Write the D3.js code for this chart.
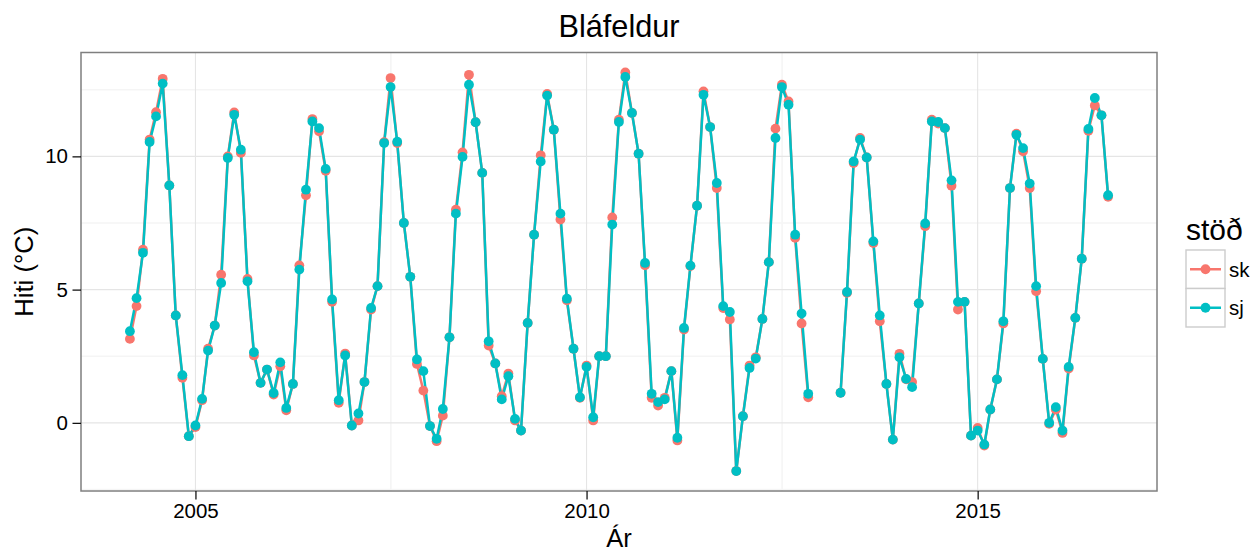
<!DOCTYPE html>
<html><head><meta charset="utf-8">
<script src="https://cdn.jsdelivr.net/npm/d3@7"></script>
<style>
body{margin:0;background:#fff}
svg{display:block}
text{font-family:"Liberation Sans",Arial,Helvetica,sans-serif}
</style>
</head><body>
<svg id="chart" width="1257" height="550"></svg>
<script>
// ---- data ----
const titleText = "Bláfeldur";
const xTitle = "Ár";
const yTitle = "Hiti (°C)";
const legendTitle = "stöð";
const seriesNames = ["sk", "sj"];
const seriesColors = ["#F8766D", "#00BFC4"];
const startYear = 2004, startMonthIndex = 2; // first value = March 2004, monthly
const sk = [3.15,4.38,6.5,10.63,11.66,12.91,8.91,4.03,1.69,-0.5,-0.16,0.85,
  2.78,3.65,5.56,10.0,11.65,10.13,5.4,2.53,1.5,2.0,1.06,2.12,
  0.47,1.46,5.91,8.54,11.4,10.94,9.46,4.54,0.75,2.6,-0.1,0.09,
  1.53,4.25,5.13,10.53,12.94,10.5,7.5,5.48,2.21,1.21,-0.12,-0.69,
  0.27,3.21,8.0,10.15,13.06,11.28,9.38,2.9,2.23,1.0,1.85,0.09,
  -0.29,3.75,7.06,10.04,12.34,11.0,7.63,4.6,2.78,0.94,2.15,0.09,
  2.5,2.5,7.71,11.38,13.15,11.63,10.1,5.91,0.94,0.65,0.94,1.94,
  -0.66,3.5,5.88,8.15,12.44,11.1,8.81,4.31,3.88,-1.81,0.25,2.15,
  2.46,3.9,6.03,11.04,12.69,12.06,6.94,3.73,0.96,null,null,null,
  null,1.13,4.88,9.75,10.69,9.96,6.75,3.81,1.46,-0.63,2.59,1.63,
  1.53,4.48,7.38,11.38,11.23,11.06,8.9,4.25,4.54,-0.48,-0.19,-0.85,
  0.5,1.63,3.73,8.81,10.85,10.19,8.81,4.94,2.4,-0.04,0.5,-0.38,
  2.04,3.94,6.16,10.96,11.91,11.54,8.48];
const sj = [3.44,4.68,6.38,10.54,11.5,12.73,8.91,4.03,1.79,-0.5,-0.1,0.9,
  2.71,3.65,5.25,9.94,11.56,10.25,5.31,2.65,1.5,2.0,1.12,2.27,
  0.56,1.46,5.75,8.75,11.31,11.06,9.53,4.63,0.85,2.53,-0.1,0.35,
  1.53,4.31,5.13,10.5,12.6,10.55,7.5,5.48,2.38,1.94,-0.12,-0.6,
  0.52,3.21,7.85,9.98,12.69,11.28,9.38,3.06,2.23,0.88,1.75,0.15,
  -0.29,3.75,7.06,9.81,12.28,11.0,7.85,4.66,2.78,0.96,2.1,0.21,
  2.5,2.5,7.44,11.29,12.98,11.63,10.1,6.0,1.09,0.78,0.88,1.94,
  -0.56,3.56,5.9,8.15,12.31,11.1,9.0,4.38,4.16,-1.81,0.25,2.06,
  2.41,3.9,6.03,10.69,12.6,11.94,7.06,4.1,1.09,null,null,null,
  null,1.13,4.91,9.81,10.63,9.96,6.81,4.03,1.46,-0.63,2.46,1.65,
  1.34,4.48,7.48,11.31,11.29,11.06,9.1,4.54,4.54,-0.48,-0.29,-0.81,
  0.5,1.63,3.81,8.81,10.81,10.31,8.98,5.13,2.4,0.0,0.59,-0.29,
  2.1,3.94,6.16,11.03,12.19,11.54,8.54];
const xTickYears = [2005, 2010, 2015];
const xMinorYears = [2007.5, 2012.5];
const yTicks = [0, 5, 10];
const yMinor = [-2.5, 2.5, 7.5, 12.5];

// ---- layout ----
const W = 1257, H = 550;
const panel = {left: 81, right: 1157, top: 52.5, bottom: 491};

const dates = sk.map((_, i) => new Date(startYear, startMonthIndex + i, 1));
const seriesData = [sk, sj].map((vals, s) => ({
  name: seriesNames[s], color: seriesColors[s],
  pts: vals.map((v, i) => ({date: dates[i], v}))
}));

const yearDate = yr => {
  const yi = Math.floor(yr), f = yr - yi;
  const a = +new Date(yi, 0, 1), b = +new Date(yi + 1, 0, 1);
  return new Date(a + f * (b - a));
};

const dExt = d3.extent(dates).map(d => +d);
const dPad = (dExt[1] - dExt[0]) * 0.05;
const x = d3.scaleTime()
  .domain([new Date(dExt[0] - dPad), new Date(dExt[1] + dPad)])
  .range([panel.left, panel.right]);

const allVals = sk.concat(sj).filter(v => v != null);
const vExt = d3.extent(allVals);
const vPad = (vExt[1] - vExt[0]) * 0.05;
const y = d3.scaleLinear()
  .domain([vExt[0] - vPad, vExt[1] + vPad])
  .range([panel.bottom, panel.top]);

const svg = d3.select("#chart");
svg.append("rect").attr("width", W).attr("height", H).attr("fill", "#fff");

svg.append("defs").append("clipPath").attr("id", "clip")
  .append("rect").attr("x", panel.left).attr("y", panel.top)
  .attr("width", panel.right - panel.left).attr("height", panel.bottom - panel.top);

const grid = svg.append("g").attr("clip-path", "url(#clip)");
grid.selectAll(".ymin").data(yMinor).enter().append("line")
  .attr("x1", panel.left).attr("x2", panel.right)
  .attr("y1", d => y(d)).attr("y2", d => y(d))
  .attr("stroke", "#f5f5f5").attr("stroke-width", 1.6);
grid.selectAll(".xmin").data(xMinorYears).enter().append("line")
  .attr("y1", panel.top).attr("y2", panel.bottom)
  .attr("x1", d => x(yearDate(d))).attr("x2", d => x(yearDate(d)))
  .attr("stroke", "#f5f5f5").attr("stroke-width", 1.6);
grid.selectAll(".ymaj").data(yTicks).enter().append("line")
  .attr("x1", panel.left).attr("x2", panel.right)
  .attr("y1", d => y(d)).attr("y2", d => y(d))
  .attr("stroke", "#e5e5e5").attr("stroke-width", 1.1);
grid.selectAll(".xmaj").data(xTickYears).enter().append("line")
  .attr("y1", panel.top).attr("y2", panel.bottom)
  .attr("x1", d => x(yearDate(d))).attr("x2", d => x(yearDate(d)))
  .attr("stroke", "#e5e5e5").attr("stroke-width", 1.1);

const plot = svg.append("g").attr("clip-path", "url(#clip)");
const line = d3.line().defined(d => d.v != null).x(d => x(d.date)).y(d => y(d.v));
seriesData.forEach(s => {
  plot.append("path").datum(s.pts).attr("d", line)
    .attr("fill", "none").attr("stroke", s.color).attr("stroke-width", 2.5)
    .attr("stroke-linejoin", "round");
});
seriesData.forEach(s => {
  plot.append("g").selectAll("circle").data(s.pts.filter(d => d.v != null)).enter()
    .append("circle").attr("cx", d => x(d.date)).attr("cy", d => y(d.v))
    .attr("r", 4.9).attr("fill", s.color);
});

svg.append("rect").attr("x", panel.left).attr("y", panel.top)
  .attr("width", panel.right - panel.left).attr("height", panel.bottom - panel.top)
  .attr("fill", "none").attr("stroke", "#7f7f7f").attr("stroke-width", 1.5);

// axes
const xAxis = d3.axisBottom(x).tickValues(xTickYears.map(yearDate))
  .tickFormat(d3.timeFormat("%Y")).tickSize(8.5).tickPadding(3.5);
const gx = svg.append("g").attr("transform", `translate(0,${panel.bottom})`).call(xAxis);
gx.select(".domain").remove();
gx.selectAll(".tick line").attr("stroke", "#000").attr("stroke-width", 1.2);
gx.selectAll(".tick text").attr("font-size", 20.5).attr("fill", "#000")
  .attr("font-family", "Liberation Sans, Arial, sans-serif");

const yAxis = d3.axisLeft(y).tickValues(yTicks).tickSize(8.5).tickPadding(4.5);
const gy = svg.append("g").attr("transform", `translate(${panel.left},0)`).call(yAxis);
gy.select(".domain").remove();
gy.selectAll(".tick line").attr("stroke", "#000").attr("stroke-width", 1.2);
gy.selectAll(".tick text").attr("font-size", 20.5).attr("fill", "#000")
  .attr("font-family", "Liberation Sans, Arial, sans-serif");

// titles
const cx = (panel.left + panel.right) / 2;
svg.append("text").attr("x", cx).attr("y", 37).attr("text-anchor", "middle")
  .attr("font-size", 30.7).attr("fill", "#000").text(titleText);
svg.append("text").attr("x", cx).attr("y", 547).attr("text-anchor", "middle")
  .attr("font-size", 25.6).attr("fill", "#000").text(xTitle);
svg.append("text").attr("transform", `translate(33,${(panel.top + panel.bottom) / 2}) rotate(-90)`)
  .attr("text-anchor", "middle").attr("font-size", 25.6).attr("fill", "#000").text(yTitle);

// legend
const lg = svg.append("g").attr("transform", "translate(1186,0)");
lg.append("text").attr("x", 0).attr("y", 240).attr("font-size", 30).attr("fill", "#000").text(legendTitle);
const keyW = 39, keyH = 38.5, keyTop = 250;
seriesData.forEach((s, i) => {
  const ky = keyTop + i * keyH;
  lg.append("rect").attr("x", 0).attr("y", ky).attr("width", keyW).attr("height", keyH)
    .attr("fill", "#fff").attr("stroke", "#cccccc").attr("stroke-width", 1.4);
  lg.append("line").attr("x1", 4).attr("x2", keyW - 4).attr("y1", ky + keyH / 2).attr("y2", ky + keyH / 2)
    .attr("stroke", s.color).attr("stroke-width", 2.5);
  lg.append("circle").attr("cx", keyW / 2).attr("cy", ky + keyH / 2).attr("r", 4.9).attr("fill", s.color);
  lg.append("text").attr("x", keyW + 4).attr("y", ky + keyH / 2 + 7.3).attr("font-size", 20.5)
    .attr("fill", "#000").text(s.name);
});
</script>
</body></html>
